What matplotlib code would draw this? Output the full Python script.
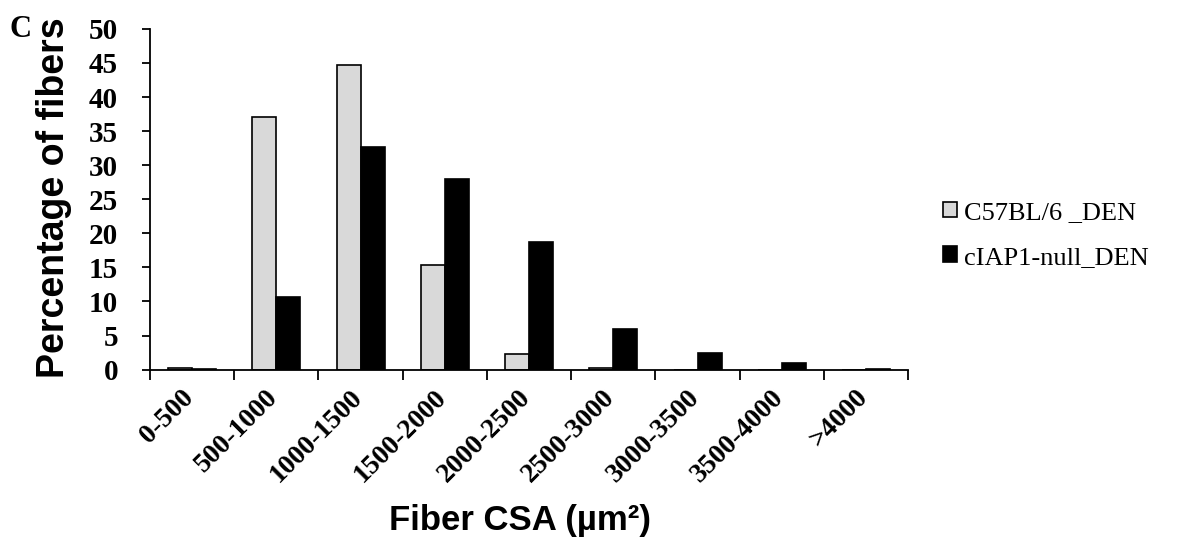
import numpy as np
import matplotlib
matplotlib.use('Agg')
import matplotlib.pyplot as plt
import matplotlib.transforms as mtransforms

# bins of fiber cross-sectional area
categories = ['0-500', '500-1000', '1000-1500', '1500-2000', '2000-2500',
              '2500-3000', '3000-3500', '3500-4000', '>4000']
wt_den = [0.3, 37.1, 44.7, 15.4, 2.3, 0.3, 0.0, 0.0, 0.0]
ciap1_den = [0.05, 10.6, 32.6, 28.0, 18.8, 6.0, 2.5, 1.0, 0.1]
series_names = ['C57BL/6 _DEN', 'cIAP1-null_DEN']
y_ticks = [0, 5, 10, 15, 20, 25, 30, 35, 40, 45, 50]

fig = plt.figure(figsize=(11.81, 5.55), dpi=100)
ax = fig.add_axes([0.127, 0.334, 0.642, 0.614])

x = np.arange(len(categories))
w = 0.285
ax.bar(x - w / 2, wt_den, width=w, color='#d9d9d9', edgecolor='black',
       linewidth=1.2, label=series_names[0])
ax.bar(x + w / 2, ciap1_den, width=w, color='black', edgecolor='black',
       linewidth=1.2, label=series_names[1])

ax.set_xlim(-0.5, len(categories) - 0.5)
ax.set_ylim(0, 50)
ax.spines['top'].set_visible(False)
ax.spines['right'].set_visible(False)
ax.spines['left'].set_linewidth(1.3)
ax.spines['bottom'].set_linewidth(1.3)

# ticks on the category boundaries, labels in the middle
ax.set_xticks(np.arange(len(categories) + 1) - 0.5)
ax.set_xticklabels([])
ax.set_xticks(x, minor=True)
ax.set_xticklabels(categories, minor=True, rotation=45, ha='right',
                   rotation_mode='anchor', fontfamily='Liberation Serif',
                   fontweight='bold', fontsize=20)
ax.tick_params(axis='x', which='major', direction='out', length=7, width=1.3)
ax.tick_params(axis='x', which='minor', length=0, pad=11)
shift = mtransforms.ScaledTranslation(-0.11, 0, fig.dpi_scale_trans)
for lbl in ax.get_xticklabels(minor=True):
    lbl.set_transform(lbl.get_transform() + shift)

ax.set_yticks(y_ticks)
ax.set_yticklabels([str(t) for t in y_ticks], fontfamily='Liberation Serif',
                   fontweight='bold', fontsize=21)
ax.tick_params(axis='y', direction='out', length=6, width=1.3, pad=17)

ax.set_ylabel('Percentage of fibers', fontfamily='Liberation Sans',
              fontweight='bold', fontsize=27)
ax.yaxis.set_label_coords(-0.103, 0.504)
fig.text(0.44, 0.063, 'Fiber CSA (µm²)', fontfamily='Liberation Sans',
         fontweight='bold', fontsize=25, ha='center', va='center')
fig.text(0.008, 0.947, 'C', fontfamily='Liberation Serif', fontweight='bold',
         fontsize=22, ha='left', va='center')

leg = ax.legend(loc='center left', bbox_to_anchor=(1.014, 0.395), frameon=False,
                prop={'family': 'Liberation Serif', 'size': 19},
                handlelength=0.55, handleheight=0.55, handletextpad=0.25,
                labelspacing=0.85)

fig.savefig('out.png', dpi=100)
